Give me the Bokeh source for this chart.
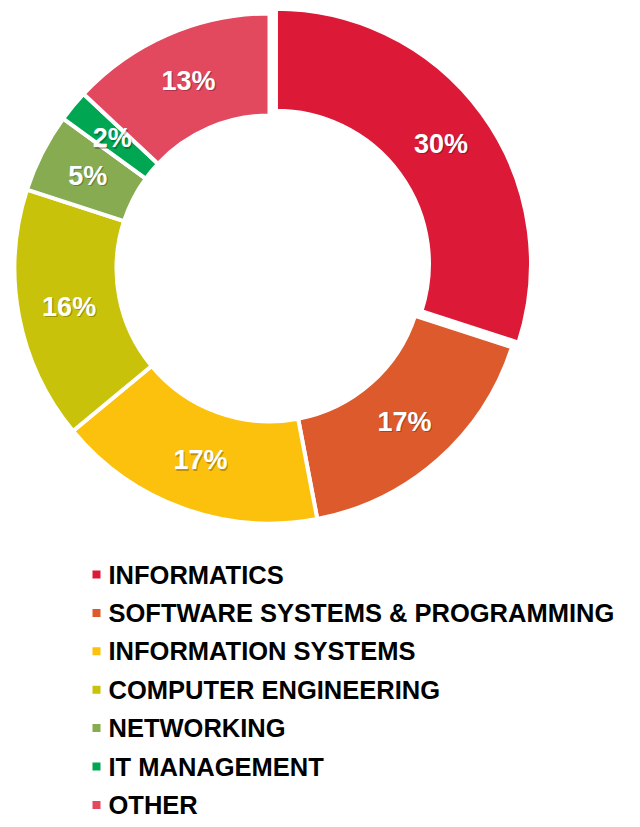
import math
from bokeh.plotting import figure
from bokeh.models import Range1d, ColumnDataSource
from bokeh.core.properties import value
from bokeh.embed import file_html
from bokeh.resources import INLINE

# ---- data ----
categories = ["INFORMATICS", "SOFTWARE SYSTEMS & PROGRAMMING", "INFORMATION SYSTEMS",
              "COMPUTER ENGINEERING", "NETWORKING", "IT MANAGEMENT", "OTHER"]
shares = [30, 17, 17, 16, 5, 2, 13]
colors = ["#DC1A37", "#DC5A2B", "#FCC10D", "#C9C20A", "#86AB50", "#00A651", "#E2485E"]
labels = [f"{v}%" for v in shares]
explode = [8, 0, 0, 0, 0, 0, 0]

# ---- layout ----
W, H = 632, 819
CX, CY = 269, 268          # donut centre in picture pixels
R_OUT, R_IN = 255, 153
R_LAB = 204

p = figure(width=W, height=H, output_backend="svg", toolbar_location=None,
           x_axis_type=None, y_axis_type=None, min_border=0,
           x_range=Range1d(-CX, W - CX), y_range=Range1d(CY - H, CY))
p.grid.visible = False
p.outline_line_color = None
p.background_fill_color = "white"
p.border_fill_color = "white"

total = sum(shares)
starts, ends, xs, ys, lx, ly = [], [], [], [], [], []
cum = 0
for v, d in zip(shares, explode):
    a0 = cum / total
    a1 = (cum + v) / total
    mid = (a0 + a1) / 2 * 2 * math.pi
    ox, oy = d * math.sin(mid), d * math.cos(mid)
    starts.append(math.pi / 2 - a0 * 2 * math.pi)
    ends.append(math.pi / 2 - a1 * 2 * math.pi)
    xs.append(ox)
    ys.append(oy)
    lx.append(ox + R_LAB * math.sin(mid))
    ly.append(oy + R_LAB * math.cos(mid))
    cum += v

src = ColumnDataSource(dict(x=xs, y=ys, start=starts, end=ends, color=colors,
                            lx=lx, ly=ly, label=labels,
                            sx=[v + 1.2 for v in lx], sy=[v - 1.2 for v in ly]))

p.annular_wedge(x="x", y="y", inner_radius=R_IN, outer_radius=R_OUT,
                start_angle="start", end_angle="end", direction="clock",
                fill_color="color", line_color="white", line_width=4, source=src)

# shadow + labels
p.text(x="sx", y="sy", text="label", text_align="center", text_baseline="middle",
       text_font=value("Liberation Sans"), text_font_style="bold",
       text_font_size="27px", text_color="black", text_alpha=0.25, source=src)
p.text(x="lx", y="ly", text="label", text_align="center", text_baseline="middle",
       text_font=value("Liberation Sans"), text_font_style="bold",
       text_font_size="27px", text_color="white", source=src)

# legend
leg_y = [CY - (574 + 38.4 * i) for i in range(len(categories))]
leg = ColumnDataSource(dict(sx=[96 - CX] * len(categories), tx=[108 - CX] * len(categories),
                            y=leg_y, name=categories, color=colors))
p.rect(x="sx", y="y", width=8, height=8, fill_color="color", line_color=None, source=leg)
p.text(x="tx", y="y", text="name", text_align="left", text_baseline="middle",
       text_font=value("Liberation Sans"), text_font_style="bold",
       text_font_size="25.5px", text_color="black", source=leg)

open("out.html", "w").write(file_html(p, INLINE))
